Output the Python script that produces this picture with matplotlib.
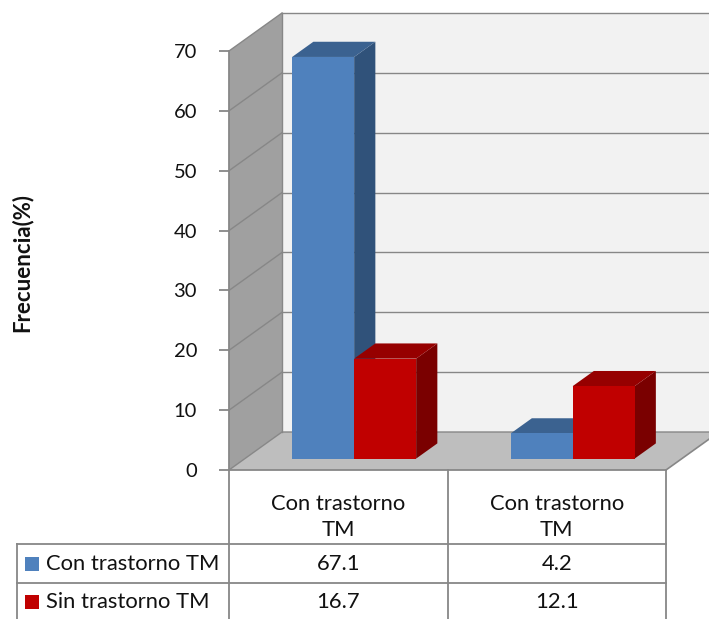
import matplotlib.pyplot as plt
from matplotlib.patches import Polygon

plt.rcParams['font.family'] = ['Lato', 'DejaVu Sans']

categories = ['Con trastorno\nTM', 'Con trastorno\nTM']
series_names = ['Con trastorno TM', 'Sin trastorno TM']
con_trastorno = [67.1, 4.2]
sin_trastorno = [16.7, 12.1]
yticks = [0, 10, 20, 30, 40, 50, 60, 70]

front_colors = ['#4f81bd', '#c00000']
top_colors = ['#3b6290', '#960000']
side_colors = ['#30527a', '#7a0000']

W, H = 709, 619
fig = plt.figure(figsize=(W / 100, H / 100), dpi=100)
# front plane of the 3d box: x 229..666 px, y 470..51 px
ax = fig.add_axes([229 / W, (H - 470) / H, 437 / W, 419 / H])
ax.set_xlim(0, 2)
ax.set_ylim(0, 70)

PX = 437 / 2          # pixels per category unit
PY = 419 / 70         # pixels per value unit
DX, DY = 53 / PX, 38 / PY   # depth of the floor
BAR_W = 62 / PX
F0, FD = 0.30, 0.40          # bar front depth / bar depth (fraction of DX, DY)
grid_c = '#878787'


def poly(pts, fc, z, ec='none', lw=0):
    ax.add_patch(Polygon(pts, closed=True, facecolor=fc, edgecolor=ec,
                         linewidth=lw, clip_on=False, zorder=z))


# walls and floor
xr = 2 + DX + 0.3
poly([(DX, DY), (xr, DY), (xr, 70 + DY), (DX, 70 + DY)], '#f2f2f2', 1)
poly([(0, 0), (DX, DY), (DX, 70 + DY), (0, 70)], '#a0a0a0', 1)
poly([(0, 0), (2, 0), (2 + DX, DY), (DX, DY)], '#bebebe', 1)

for v in yticks[1:]:
    ax.plot([0, DX], [v, v + DY], color=grid_c, lw=1, clip_on=False, zorder=2)
    ax.plot([DX, xr], [v + DY, v + DY], color=grid_c, lw=1, clip_on=False, zorder=2)
ax.plot([DX, DX], [DY, 70 + DY], color=grid_c, lw=1, clip_on=False, zorder=2)
ax.plot([0, DX, 2 + DX + 0.3], [0, DY, DY], color=grid_c, lw=1, clip_on=False, zorder=2)
ax.plot([2, 2 + DX], [0, DY], color=grid_c, lw=1.2, clip_on=False, zorder=2)

# 3d bars
bx, by = F0 * DX, F0 * DY
bdx, bdy = FD * DX, FD * DY
z = 3
for gi in range(len(categories)):
    for si, vals in enumerate([con_trastorno, sin_trastorno]):
        v = vals[gi]
        x0 = gi + 0.5 + (si - 1) * BAR_W + bx
        poly([(x0 + BAR_W, by), (x0 + BAR_W + bdx, by + bdy),
              (x0 + BAR_W + bdx, by + v + bdy), (x0 + BAR_W, by + v)],
             side_colors[si], z)
        poly([(x0, by + v), (x0 + BAR_W, by + v),
              (x0 + BAR_W + bdx, by + v + bdy), (x0 + bdx, by + v + bdy)],
             top_colors[si], z)
        ax.bar(x0, v, BAR_W, bottom=by, align='edge', color=front_colors[si],
               clip_on=False, zorder=z)
        z += 1

# y axis
for s in ['top', 'right', 'bottom']:
    ax.spines[s].set_visible(False)
ax.spines['left'].set_color(grid_c)
ax.spines['left'].set_linewidth(1.3)
ax.spines['left'].set_zorder(10)
ax.set_xticks([])
ax.set_yticks(yticks)
ax.tick_params(axis='y', length=7, width=1.3, color=grid_c, pad=16,
               labelsize=14.5, labelcolor='#111111')
ax.set_facecolor('none')

fig.text(22 / W, 1 - 262 / H, 'Frecuencia(%)', rotation=90, ha='center',
         va='center', fontsize=16, fontweight='bold', color='#111111')

# data table below the plot
r1, r2, r3 = -74 / PY, -113 / PY, -152 / PY
xl = (17 - 229) / PX
tk = dict(color=grid_c, lw=1.3, clip_on=False, zorder=10)
ax.plot([0, 0], [0, r3], **tk)
ax.plot([1, 1], [0, r3], **tk)
ax.plot([2, 2], [0, r3], **tk)
ax.plot([0, 2], [0, 0], **tk)
ax.plot([xl, 2], [r1, r1], **tk)
ax.plot([xl, 2], [r2, r2], **tk)
ax.plot([xl, xl], [r1, r3], **tk)

txt = dict(fontsize=15.8, color='#111111', clip_on=False, zorder=11)
for gi, cat in enumerate(categories):
    ax.text(gi + 0.5, -47 / PY, cat, ha='center', va='center',
            linespacing=1.35, **txt)
rows_y = [-93.5 / PY, -132 / PY]
for si, (name, vals) in enumerate(zip(series_names, [con_trastorno, sin_trastorno])):
    yc = rows_y[si]
    hs = 7 / PY
    poly([(xl + 8 / PX, yc - hs), (xl + 22 / PX, yc - hs),
          (xl + 22 / PX, yc + hs), (xl + 8 / PX, yc + hs)], front_colors[si], 11)
    ax.text(xl + 29 / PX, yc, name, ha='left', va='center', **txt)
    for gi, v in enumerate(vals):
        ax.text(gi + 0.5, yc, f'{v:.1f}', ha='center', va='center', **txt)

fig.savefig('out.png', dpi=100)
